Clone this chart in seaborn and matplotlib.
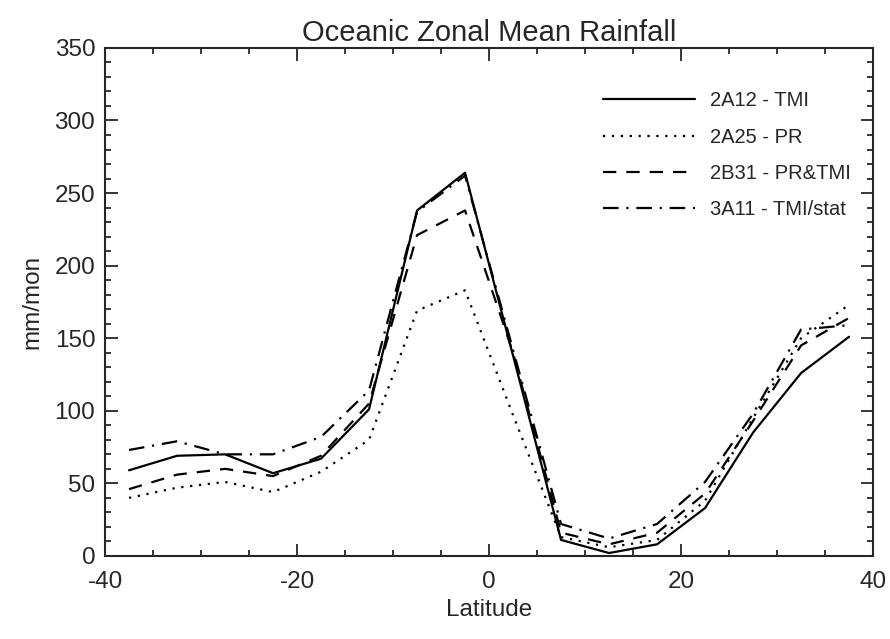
import numpy as np
import pandas as pd
import seaborn as sns
import matplotlib.pyplot as plt
from matplotlib.ticker import MultipleLocator

# zonal means (mm/mon)
lat = [-37.5, -32.5, -27.5, -22.5, -17.5, -12.5, -7.5, -2.5,
       2.5, 7.5, 12.5, 17.5, 22.5, 27.5, 32.5, 37.5]
tmi_2a12 = [59, 69, 70, 57, 67, 101, 238, 264, 138, 11, 2, 8, 33, 85, 126, 151]
pr_2a25 = [40, 47, 51, 44, 58, 80, 169, 183, 97, 13, 6, 11, 38, 95, 150, 173]
prtmi_2b31 = [46, 56, 60, 55, 69, 105, 221, 238, 140, 16, 8, 16, 43, 93, 145, 164]
stat_3a11 = [73, 79, 70, 70, 82, 114, 237, 262, 142, 22, 12, 22, 51, 98, 156, 159]

labels = ["2A12 - TMI", "2A25 - PR", "2B31 - PR&TMI", "3A11 - TMI/stat"]
series = [tmi_2a12, pr_2a25, prtmi_2b31, stat_3a11]
styles = ["-", (0, (1, 3)), (0, (6, 4.5)), (0, (7, 3.5, 1, 3.5))]

sns.set_style("ticks")
plt.rcParams["font.family"] = ["Liberation Sans", "DejaVu Sans"]
plt.rcParams["axes.unicode_minus"] = False

fig, ax = plt.subplots(figsize=(8.9, 6.39), dpi=100)
fig.subplots_adjust(left=0.118, right=0.981, bottom=0.13, top=0.925)

for lab, vals, ls in zip(labels, series, styles):
    df = pd.DataFrame({"lat": lat, "rain": vals})
    sns.lineplot(data=df, x="lat", y="rain", ax=ax, color="black",
                 linewidth=1.6, linestyle=ls, label=lab)

ax.set_xlim(-40, 40)
ax.set_ylim(0, 350)
ax.xaxis.set_major_locator(MultipleLocator(20))
ax.xaxis.set_minor_locator(MultipleLocator(5))
ax.yaxis.set_major_locator(MultipleLocator(50))
ax.yaxis.set_minor_locator(MultipleLocator(10))
ax.tick_params(which="both", direction="in", top=True, right=True,
               width=1.3, labelsize=17.5)
ax.tick_params(axis="y", pad=7)
ax.tick_params(axis="x", pad=11)
ax.tick_params(which="major", length=9)
ax.tick_params(which="minor", length=4.5)
for s in ax.spines.values():
    s.set_linewidth(1.5)

ax.set_title("Oceanic Zonal Mean Rainfall", fontsize=21, pad=5)
ax.set_xlabel("Latitude", fontsize=17.5, labelpad=4)
ax.set_ylabel("mm/mon", fontsize=17.5, labelpad=8)

leg = ax.legend(loc="upper right", bbox_to_anchor=(0.995, 0.95),
                frameon=False, fontsize=14.5, handlelength=4.6,
                handletextpad=0.75, labelspacing=0.85)

plt.savefig("out.png", dpi=100)
